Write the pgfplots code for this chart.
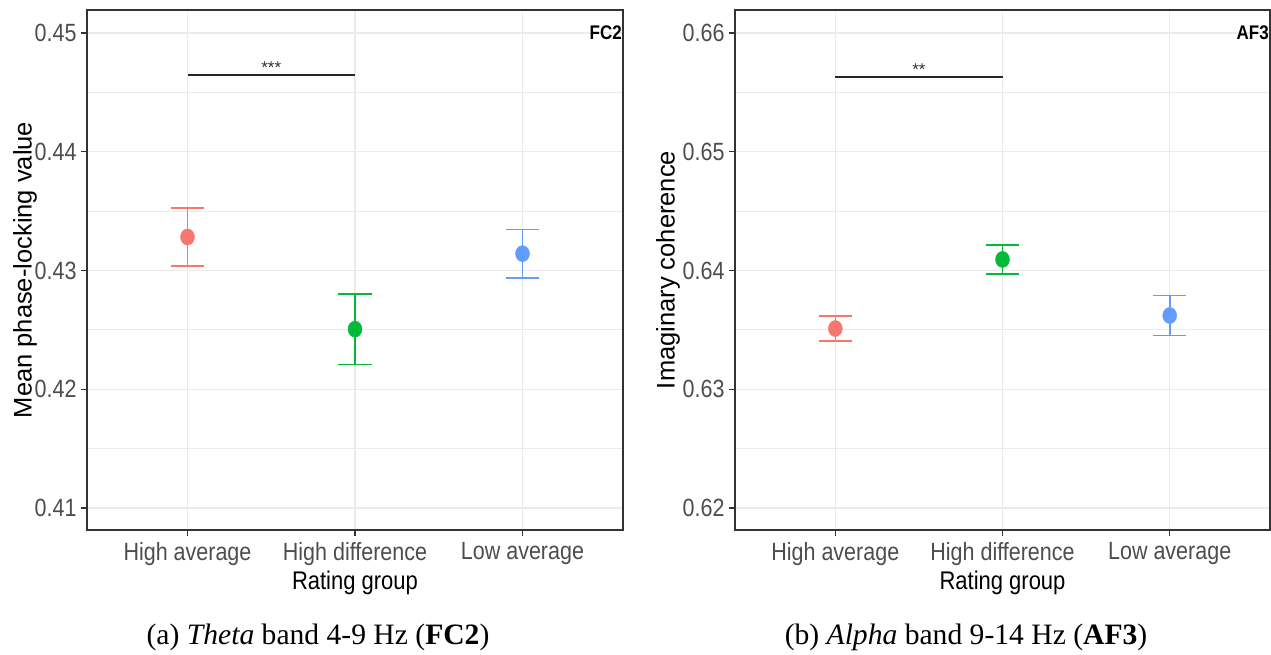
\documentclass[border=0pt]{standalone}
\usepackage{pgfplots}
\pgfplotsset{compat=1.18}
\usepackage{fontspec}
\setmainfont{Liberation Serif}
\newfontfamily\arial{Liberation Sans}

\definecolor{gred}{HTML}{F8766D}
\definecolor{ggreen}{HTML}{00BA38}
\definecolor{gblue}{HTML}{619CFF}
\definecolor{gtick}{HTML}{4D4D4D}
\definecolor{gframe}{HTML}{333333}
\definecolor{ggrid}{HTML}{EBEBEB}

% slightly tall glyphs for the panel text
\newcommand\vs[1]{\scalebox{1}[1.16]{#1}}

\pgfplotsset{
  ggpanel/.style={
    scale only axis, width=536pt, height=520pt,
    xmin=0.4, xmax=3.6,
    xtick={1,2,3},
    xticklabels={\vs{High average},\vs{High difference},\vs{Low average}},
    grid=both,
    major grid style={draw=ggrid, line width=1.3pt},
    minor grid style={draw=ggrid, line width=0.8pt},
    axis line style={draw=gframe, line width=1.2pt},
    major tick style={draw=gframe, line width=1.2pt},
    minor tick length=0pt,
    tick align=outside, major tick length=6pt,
    xtick pos=bottom, ytick pos=left,
    ticklabel style={font=\arial\fontsize{21.5}{24}\selectfont, text=gtick},
    xticklabel style={yshift=-3pt},
    yticklabel style={xshift=-1pt},
    every axis x label/.style={at={(rel axis cs:0.5,0)}, anchor=center, yshift=-53pt,
      font=\arial\fontsize{22}{26}\selectfont},
    every axis y label/.style={at={(rel axis cs:0,0.5)}, rotate=90, anchor=center,
      font=\arial\fontsize{25.5}{30}\selectfont},
    xlabel={\vs{Rating group}},
    clip=false,
  },
  grp/.style={only marks, mark=*, mark size=7pt, color=#1,
    mark options={yscale=1.15, draw=#1, fill=#1},
    error bars/.cd, y dir=both, y explicit,
    error mark=-,
    error mark options={rotate=90, mark size=16.7pt, line width=1.6pt, #1},
    error bar style={line width=1.6pt, #1}},
  sigbar/.style={draw=black!85, line width=1.6pt, no marks},
}

\begin{document}
\begin{tikzpicture}
\useasboundingbox (0,0) rectangle (1271pt,655pt);

% (a) theta band, FC2
\begin{axis}[ggpanel, at={(87pt,125pt)}, anchor=south west,
  ymin=0.408147, ymax=0.451937,
  ytick={0.41,0.42,0.43,0.44,0.45},
  yticklabels={\vs{0.41},\vs{0.42},\vs{0.43},\vs{0.44},\vs{0.45}},
  minor ytick={0.415,0.425,0.435,0.445},
  ylabel={Mean phase-locking value},
  ylabel style={yshift=62pt}]
  \addplot[grp=gred]   coordinates {(1,0.43282) +- (0,0.00246)};
  \addplot[grp=ggreen] coordinates {(2,0.42506) +- (0,0.00297)};
  \addplot[grp=gblue]  coordinates {(3,0.43142) +- (0,0.00204)};
  \addplot[sigbar] coordinates {(1,0.44644) (2,0.44644)};
  \node[anchor=south, inner sep=2pt, font=\arial\fontsize{17}{19}\selectfont, text=gframe]
    at (axis cs:1.5,0.44644) {***};
  \node[anchor=east, inner sep=1pt, font=\arial\bfseries\fontsize{17}{19}\selectfont]
    at (axis cs:3.6,0.45) {\vs{FC2}};
\end{axis}

% (b) alpha band, AF3
\begin{axis}[ggpanel, at={(735pt,125pt)}, anchor=south west, width=535pt,
  ymin=0.618147, ymax=0.661937,
  ytick={0.62,0.63,0.64,0.65,0.66},
  yticklabels={\vs{0.62},\vs{0.63},\vs{0.64},\vs{0.65},\vs{0.66}},
  minor ytick={0.625,0.635,0.645,0.655},
  ylabel={Imaginary coherence},
  ylabel style={yshift=67pt}]
  \addplot[grp=gred]   coordinates {(1,0.63511) +- (0,0.00105)};
  \addplot[grp=ggreen] coordinates {(2,0.64093) +- (0,0.00123)};
  \addplot[grp=gblue]  coordinates {(3,0.63621) +- (0,0.00168)};
  \addplot[sigbar] coordinates {(1,0.65627) (2,0.65627)};
  \node[anchor=south, inner sep=2pt, font=\arial\fontsize{17}{19}\selectfont, text=gframe]
    at (axis cs:1.5,0.65627) {**};
  \node[anchor=east, inner sep=1pt, font=\arial\bfseries\fontsize{17}{19}\selectfont]
    at (axis cs:3.6,0.66) {\vs{AF3}};
\end{axis}

% sub-captions
\node[font=\fontsize{29.6}{34}\selectfont] at (318pt,18pt)
  {(a) \textit{Theta} band 4-9 Hz (\textbf{FC2})};
\node[font=\fontsize{29.6}{34}\selectfont] at (966pt,18pt)
  {(b) \textit{Alpha} band 9-14 Hz (\textbf{AF3})};
\end{tikzpicture}
\end{document}
